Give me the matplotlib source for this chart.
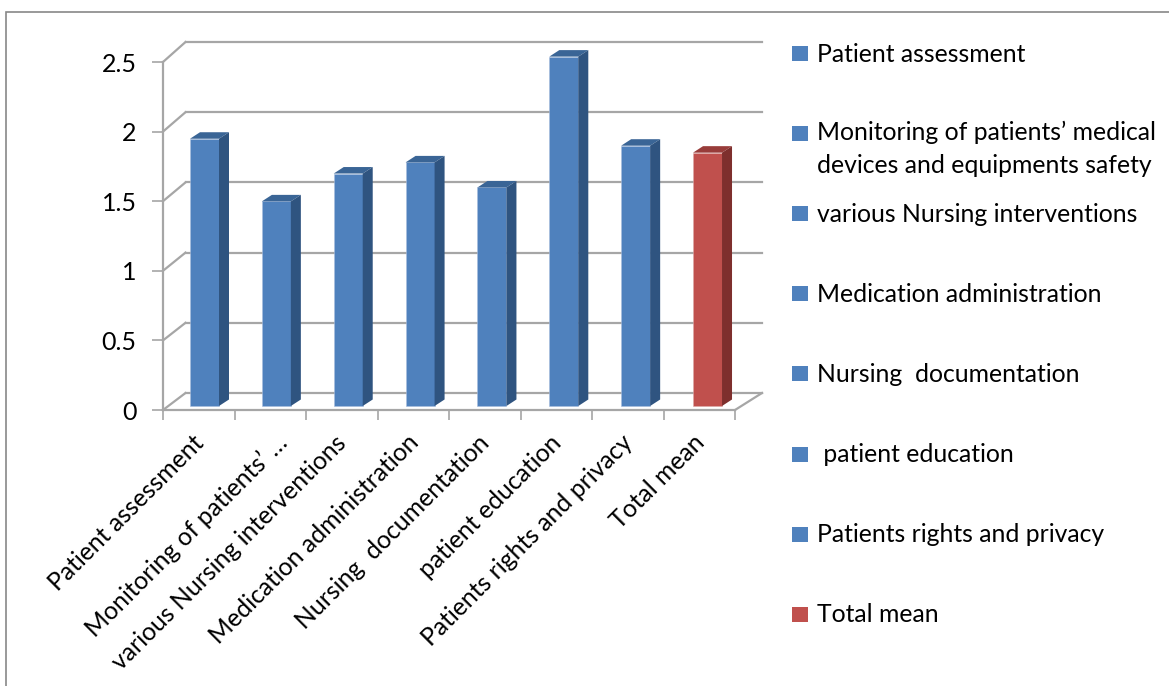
"""3D-look bar chart of nursing care mean scores."""
import matplotlib
matplotlib.use("Agg")
import matplotlib.pyplot as plt
from matplotlib.patches import Polygon, Rectangle

categories = ["Patient assessment", "Monitoring of patients\u2019 \u2026",
              "various Nursing interventions", "Medication administration",
              "Nursing  documentation", "patient education",
              "Patients rights and privacy", "Total mean"]
legend_labels = ["Patient assessment",
                 "Monitoring of patients\u2019 medical\ndevices and equipments safety",
                 "various Nursing interventions", "Medication administration",
                 "Nursing  documentation", " patient education",
                 "Patients rights and privacy", "Total mean"]
values = [1.92, 1.47, 1.67, 1.75, 1.57, 2.51, 1.87, 1.82]
y_ticks = [0, 0.5, 1, 1.5, 2, 2.5]
y_tick_labels = ["0", "0.5", "1", "1.5", "2", "2.5"]

W, H = 1169, 686
BLUE = ("#4F81BD", "#3A6596", "#2F5480")
RED = ("#C0504D", "#983C3A", "#7E2F2D")
GRID = "#A6A6A6"
FONT = "Lato"

plt.rcParams["font.family"] = FONT

fig = plt.figure(figsize=(W / 100, H / 100), dpi=100)
ax = fig.add_axes([163 / W, 1 - 410 / H, 572 / W, 348 / H])
ax.set_xlim(0, 8)
ax.set_ylim(0, 2.5)
ax.patch.set_alpha(0)

# pixel sizes in data units
px_x = 8 / 572
px_y = 2.5 / 348

# outer chart frame, runs off the right and bottom of the image
fig.add_artist(Rectangle((6 / W, -0.01), 1.01, 1.01 - 11.5 / H, fill=False,
                         edgecolor="#888888", linewidth=1.2,
                         transform=fig.transFigure))

# back wall and left wall gridlines, the back wall is a little taller
wall_dx = 22.5 * px_x
wall_dy = 17 * px_y
wall_scale = 1.0086
for v in y_ticks:
    back = v * wall_scale + wall_dy
    ax.plot([0, wall_dx], [v, back], color=GRID, lw=1.6, clip_on=False,
            zorder=1)
    ax.plot([wall_dx, 8 + 27 * px_x], [back, back], color=GRID, lw=1.6,
            clip_on=False, zorder=1)
ax.plot([8, 8 + 27 * px_x], [0, wall_dy], color=GRID, lw=1.6, clip_on=False,
        zorder=1)

# bars: front, top and side face
bar_w = 29 * px_x
depth_x = 10 * px_x
depth_y = 6.5 * px_y
lift = 4 * px_y
bar_step = 71.86 * px_x
for i, v in enumerate(values):
    front, top, side = RED if i == len(values) - 1 else BLUE
    left = i * bar_step + 27 * px_x
    right = left + bar_w
    high = lift + v
    ax.bar(left, v, width=bar_w, bottom=lift, align="edge", color=front,
           edgecolor="#A9BEDD" if front == BLUE[0] else "#DDA9A8",
           linewidth=0.4, zorder=3, clip_on=False)
    ax.add_patch(Polygon([(left, high), (right, high),
                          (right + depth_x, high + depth_y),
                          (left + depth_x, high + depth_y)],
                         closed=True, color=top, lw=0, zorder=3,
                         clip_on=False))
    ax.add_patch(Polygon([(right, lift), (right + depth_x, lift + depth_y),
                          (right + depth_x, high + depth_y), (right, high)],
                         closed=True, color=side, lw=0, zorder=3,
                         clip_on=False))

for name in ["top", "right"]:
    ax.spines[name].set_visible(False)
for name in ["left", "bottom"]:
    ax.spines[name].set_color(GRID)
    ax.spines[name].set_linewidth(1.6)

ax.set_yticks(y_ticks, y_tick_labels, fontsize=18)
ax.tick_params(axis="y", length=8, width=1.2, color=GRID, pad=11)
ax.set_xticks(range(9), [""] * 9)
ax.tick_params(axis="x", which="major", length=7, width=1.2, color=GRID)

# label anchors sit left of the slot centres; the truncated label runs further
label_pos = [i + 0.5 + (5 if i == 1 else -7) * px_x for i in range(8)]
ax.set_xticks(label_pos, categories, minor=True, rotation=45, ha="right",
              rotation_mode="anchor", fontsize=17.8)
ax.tick_params(axis="x", which="minor", length=0, pad=15)

# legend entries, irregular spacing as in the original
legend_y = [54, 149, 214, 294, 374, 455, 535, 615]
for i, (label, y) in enumerate(zip(legend_labels, legend_y)):
    square_y = 133 if i == 1 else y - 1
    colour = RED[0] if i == len(legend_labels) - 1 else BLUE[0]
    fig.add_artist(Rectangle((792 / W, 1 - (square_y + 8) / H), 16 / W, 15 / H,
                             color=colour, lw=0, transform=fig.transFigure))
    fig.text(817 / W, 1 - y / H, label, fontsize=17.8, va="center", ha="left",
             linespacing=1.5)

fig.savefig("out.png", dpi=100)
